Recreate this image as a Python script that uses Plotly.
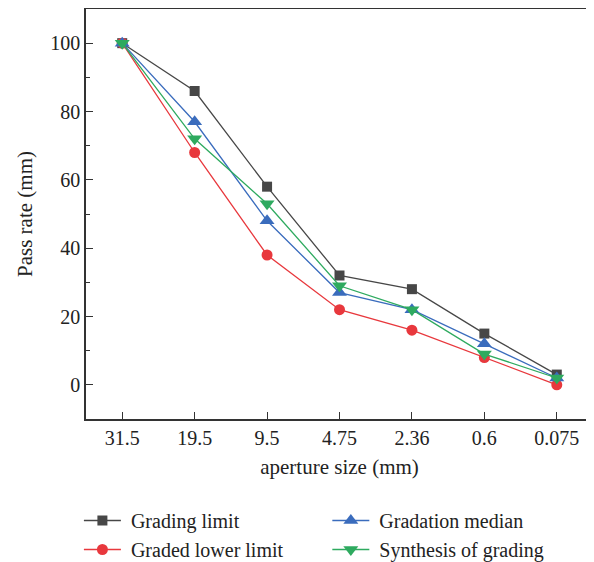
import plotly.graph_objects as go

sizes = ["31.5", "19.5", "9.5", "4.75", "2.36", "0.6", "0.075"]
grading_limit = [100, 86, 58, 32, 28, 15, 3]
graded_lower = [100, 68, 38, 22, 16, 8, 0]
gradation_median = [100, 77, 48, 27, 22, 12, 2]
synthesis = [100, 72, 53, 29, 22, 9, 2]

FONT = "Liberation Serif"
NB = "\u00a0"
fig = go.Figure()

def add(name, y, color, symbol, legend, msize=11):
    fig.add_trace(go.Scatter(
        x=sizes, y=y, name=NB + name, mode="lines+markers",
        line=dict(color=color, width=1.3),
        marker=dict(symbol=symbol, size=msize, color=color),
        legend=legend,
    ))

add("Grading limit", grading_limit, "#474747", "square", "legend", 10)
add("Graded lower limit", graded_lower, "#e8383d", "circle", "legend", 11)
add("Gradation median", gradation_median, "#3a6cbd", "triangle-up", "legend2", 13)
add("Synthesis of grading", synthesis, "#2eaa5f", "triangle-down", "legend2", 13)

axis_common = dict(
    showline=True, linecolor="#333", linewidth=1.5, mirror=True,
    ticks="inside", ticklen=7, tickcolor="#333", tickwidth=1.3,
    showgrid=False, zeroline=False, automargin=False,
    tickfont=dict(family=FONT, size=20, color="#222"),
)

fig.update_layout(
    width=586, height=554,
    margin=dict(l=78, r=1, t=1, b=143, autoexpand=False),
    paper_bgcolor="white", plot_bgcolor="white",
    font=dict(family=FONT, size=20, color="#222"),
    xaxis=dict(**axis_common, type="category", range=[-0.5, 6.5],
               title=dict(text="aperture size (mm)", font=dict(family=FONT, size=21), standoff=12)),
    yaxis=dict(**axis_common, range=[-10, 110], dtick=20, tick0=0,
               minor=dict(ticks="inside", ticklen=4, dtick=10, tickcolor="#333", tickwidth=1.3),
               title=dict(text="Pass rate (mm)", font=dict(family=FONT, size=21), standoff=12)),
    legend=dict(x=-0.014, y=-0.2, xanchor="left", yanchor="top", itemwidth=37,
                font=dict(family=FONT, size=20), bgcolor="rgba(0,0,0,0)", tracegroupgap=0),
    legend2=dict(x=0.476, y=-0.2, xanchor="left", yanchor="top", itemwidth=37,
                 font=dict(family=FONT, size=20), bgcolor="rgba(0,0,0,0)", tracegroupgap=0),
)

fig.write_html("out.html")
